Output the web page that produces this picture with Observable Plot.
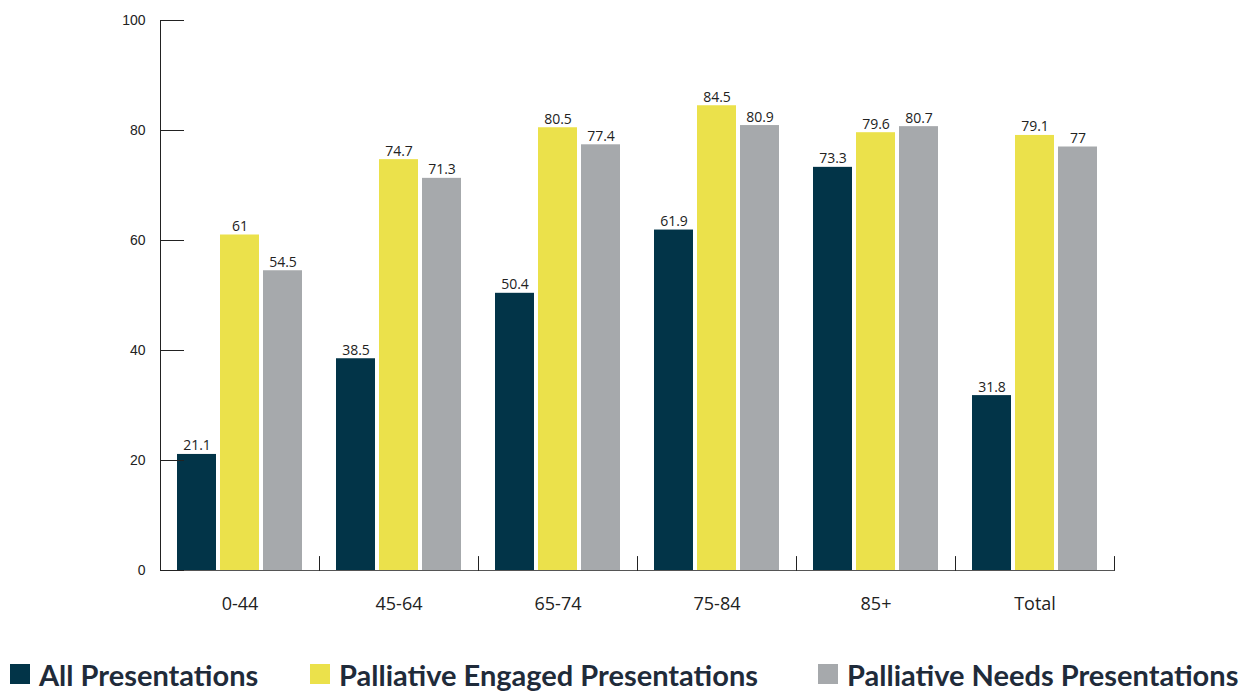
<!DOCTYPE html>
<html>
<head>
<meta charset="utf-8">
<script src="https://cdn.jsdelivr.net/npm/d3@7"></script>
<script src="https://cdn.jsdelivr.net/npm/@observablehq/plot@0.6"></script>
<style>
  body { margin: 0; background: #fff; }
  #chart { position: relative; width: 1256px; }
  .legend { position: relative; width: 1256px; height: 63px; font-family: Lato, sans-serif; font-weight: 700; font-size: 29px; color: #1f2b3a; }
  .item { position: absolute; top: 29px; height: 30px; display: flex; align-items: center; white-space: nowrap; }
  .sw { width: 20px; height: 20px; margin-right: 9px; }
</style>
</head>
<body>
<div id="chart"></div>
<script>
const groups = ["0-44", "45-64", "65-74", "75-84", "85+", "Total"];
const seriesNames = ["All Presentations", "Palliative Engaged Presentations", "Palliative Needs Presentations"];
const allPresentations = [21.1, 38.5, 50.4, 61.9, 73.3, 31.8];
const engagedPresentations = [61, 74.7, 80.5, 84.5, 79.6, 79.1];
const needsPresentations = [54.5, 71.3, 77.4, 80.9, 80.7, 77];
const yTicks = [0, 20, 40, 60, 80, 100];
const colors = ["#023448", "#ebe14b", "#a6a9ac"];

const seriesValues = [allPresentations, engagedPresentations, needsPresentations];
const table = [];
groups.forEach((g, i) => seriesNames.forEach((s, j) => table.push({group: g, series: s, value: seriesValues[j][i]})));

const fmt = d => String(d);
const upTick = {draw(context, l) { context.moveTo(0, 0); context.lineTo(0, -l); }};

const plot = Plot.plot({
  width: 1256,
  height: 630,
  marginTop: 20,
  marginBottom: 60,
  marginLeft: 160,
  marginRight: 142,
  style: {fontFamily: "'Open Sans', sans-serif", background: "#fff"},
  fx: {domain: groups, padding: 0, axis: null, label: null},
  x: {domain: seriesNames, paddingInner: 0.093, paddingOuter: 0.395, axis: null},
  y: {domain: [0, 100], axis: null},
  color: {domain: seriesNames, range: colors},
  marks: [
    Plot.barY(table, {fx: "group", x: "series", y: "value", fill: "series"}),
    Plot.ruleY([0], {stroke: "#555", strokeWidth: 1.2}),
    Plot.frame({anchor: "left", facetAnchor: "left", stroke: "#222", strokeWidth: 1}),
    Plot.vector([0], {frameAnchor: "bottom-right", length: 14, rotate: 0, anchor: "start", stroke: "#222", strokeWidth: 1, shape: upTick}),
    Plot.vector([0], {frameAnchor: "bottom-left", facetAnchor: "left", length: 14, rotate: 0, anchor: "start", stroke: "#222", strokeWidth: 1, shape: upTick}),
    Plot.axisY({ticks: yTicks, tickSize: -24, tickFormat: () => "", label: null, stroke: "#222"}),
    Plot.axisY({ticks: yTicks, tickSize: 0, tickPadding: 15, label: null, fontSize: 14, fontFamily: "Liberation Sans, Arial, sans-serif", fill: "#222"}),
    Plot.axisFx({anchor: "bottom", tickSize: 0, tickPadding: 27, label: null, fontSize: 18, fill: "#222"}),
    Plot.text(table, {fx: "group", x: "series", y: "value", text: d => fmt(d.value), lineAnchor: "bottom", dy: -4, fontSize: 14, fill: "#222"})
  ]
});
document.getElementById("chart").appendChild(plot);

const legend = document.createElement("div");
legend.className = "legend";
const lefts = [10, 310, 818];
seriesNames.forEach((s, i) => {
  const it = document.createElement("div");
  it.className = "item";
  it.style.left = lefts[i] + "px";
  const sw = document.createElement("span");
  sw.className = "sw";
  sw.style.background = colors[i];
  const t = document.createElement("span");
  t.textContent = s;
  it.appendChild(sw);
  it.appendChild(t);
  legend.appendChild(it);
});
document.getElementById("chart").appendChild(legend);
</script>
</body>
</html>
